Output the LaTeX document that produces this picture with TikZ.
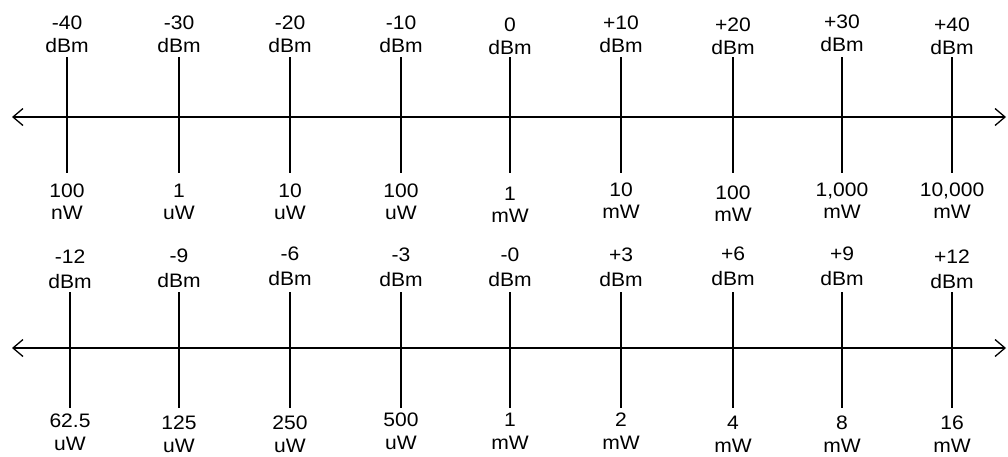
\documentclass[tikz,border=0pt]{standalone}
\usepackage{fontspec}
\setmainfont{Liberation Sans}
\newfontfamily\lblfont{Liberation Sans}[FakeStretch=1.08]
\usetikzlibrary{arrows.meta}
\begin{document}
\begin{tikzpicture}[x=1pt,y=-1pt,
  lbl/.style={anchor=base,inner sep=0pt,font=\lblfont\fontsize{19.5}{23}\selectfont},
  barb/.tip={Straight Barb[length=10pt,width=17pt,line width=1.3pt]},
  axis/.style={line width=1.3pt,barb-barb},
  tick/.style={line width=1.3pt}]
\useasboundingbox (0,0) rectangle (1008,456);
% upper scale
\coordinate (al) at (12,117);
\coordinate (ar) at (1006,117);
\draw[axis] (al) -- (ar);
\foreach \x/\v/\p/\u/\da/\db [count=\i] in {67/-40/100/nW/0/0, 179/-30/1/uW/0/0, 290/-20/10/uW/0/0, 401/-10/100/uW/0/0, 510/0/1/mW/2/3, 621/+10/10/mW/0/-1, 733/+20/100/mW/2/2, 842/+30/{1,000}/mW/-1/-1, 952/+40/{10,000}/mW/2/-1}{
  \node[lbl] (ta\i) at (\x,29+\da) {\v};
  \node[lbl] (tb\i) at (\x,52+\da) {dBm};
  \coordinate (ts\i) at (\x,57);
  \coordinate (te\i) at (\x,173);
  \draw[tick] (ts\i) -- (te\i);
  \node[lbl] (tc\i) at (\x,197+\db) {\p};
  \node[lbl] (td\i) at (\x,219+\db) {\u};
}
% lower scale
\coordinate (bl) at (12,348);
\coordinate (br) at (1006,348);
\draw[axis] (bl) -- (br);
\foreach \x/\v/\p/\u/\da/\db [count=\i] in {70/-12/62.5/uW/1/-1, 179/-9/125/uW/0/1, 290/-6/250/uW/-2/1, 401/-3/500/uW/-1/-2, 510/-0/1/mW/-1/-2, 621/+3/2/mW/-1/-2, 733/+6/4/mW/-2/1, 842/+9/8/mW/-2/1, 952/+12/16/mW/1/1}{
  \node[lbl] (ba\i) at (\x,262+\da) {\v};
  \node[lbl] (bb\i) at (\x,287+\da) {dBm};
  \coordinate (bs\i) at (\x,292);
  \coordinate (be\i) at (\x,408);
  \draw[tick] (bs\i) -- (be\i);
  \node[lbl] (bc\i) at (\x,428+\db) {\p};
  \node[lbl] (bd\i) at (\x,451+\db) {\u};
}
\end{tikzpicture}
\end{document}
